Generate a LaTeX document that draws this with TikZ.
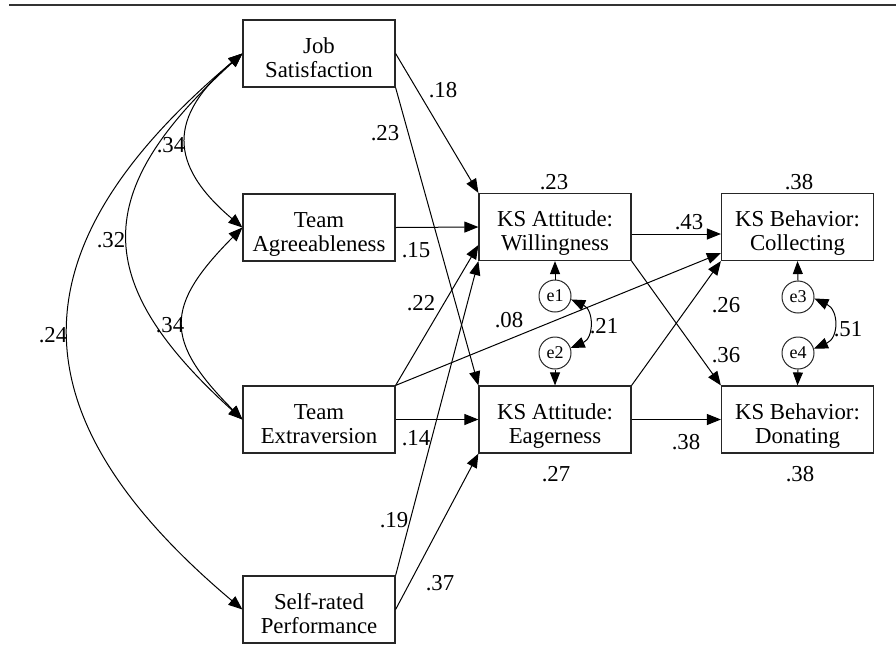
\documentclass[tikz,border=0pt]{standalone}
\usepackage{fontspec}
\setmainfont{Liberation Serif}
\usetikzlibrary{arrows.meta,calc}
\newcommand{\bxt}[2]{\rule{0pt}{28pt}#1\\#2\rule[-5pt]{0pt}{5pt}}
\begin{document}
\begin{tikzpicture}[x=1pt,y=-1pt,
  box/.style={draw=black!85, line width=1.2pt, minimum width=152pt, minimum height=67pt,
    inner sep=2pt, align=center, font=\fontsize{22.8}{24}\selectfont},
  err/.style={draw=black!85, line width=1pt, circle, minimum size=32pt, inner sep=0pt,
    font=\fontsize{18}{20}\selectfont},
  lbl/.style={inner sep=0pt, font=\fontsize{22.8}{24}\selectfont},
  path/.style={line width=1pt, -{Triangle[length=14pt,width=11pt]}},
  cov/.style={line width=1pt, {Triangle[length=14pt,width=11pt]}-{Triangle[length=14pt,width=11pt]}},
  smallarr/.style={line width=1pt, -{Triangle[length=13pt,width=10pt]}}
]
\useasboundingbox (0,0) rectangle (896,646);
\draw[line width=2.5pt, black!80] (9,5) -- (896,5);

% boxes
\node[box] (js) at (319,53.5) {\bxt{Job}{Satisfaction}};
\node[box] (ta) at (319,227.5) {\bxt{Team}{Agreeableness}};
\node[box] (te) at (319,419.5) {\bxt{Team}{Extraversion}};
\node[box] (sr) at (319,609.5) {\bxt{Self-rated}{Performance}};
\node[box] (w) at (555,227) {\bxt{KS Attitude:}{Willingness}};
\node[box] (e) at (555,419.5) {\bxt{KS Attitude:}{Eagerness}};
\node[box] (c) at (797.5,227) {\bxt{KS Behavior:}{Collecting}};
\node[box] (d) at (797.5,419.5) {\bxt{KS Behavior:}{Donating}};

% error terms
\node[err] (e1) at (555,296) {e1};
\node[err] (e2) at (555,353) {e2};
\node[err] (e3) at (798,297) {e3};
\node[err] (e4) at (798,353) {e4};

% covariances on the left
\draw[cov] (js.west) .. controls (168,116.5) and (168,164.5) .. (ta.west);
\draw[cov] (js.west) .. controls (90,191.5) and (90,281.5) .. (te.west);
\draw[cov] (js.west) .. controls (11,248.5) and (11,414.5) .. (sr.west);
\draw[cov] (ta.west) .. controls (164,306.5) and (164,340.5) .. (te.west);

% paths
\draw[path] (js.east) -- (w.north west);
\draw[path] (js.south east) -- (e.north west);
\draw[path] (ta.east) -- (w.west);
\draw[path] (te.north east) -- ($(w.west)+(0,18)$);
\draw[path] (sr.north east) -- (w.south west);
\draw[path] (te.north east) -- ($(c.south west)+(0,-8)$);
\draw[path] (te.east) -- (e.west);
\draw[path] (sr.east) -- (e.south west);
\draw[path] ($(w.east)+(0,7)$) -- ($(c.west)+(0,7)$);
\draw[path] (w.south east) -- (d.north west);
\draw[path] (e.north east) -- (c.south west);
\draw[path] (e.east) -- (d.west);

% error arrows
\draw[smallarr] (e1.north) -- (w.south);
\draw[smallarr] (e2.south) -- (e.north);
\draw[smallarr] (e3.north) -- (c.south);
\draw[smallarr] (e4.south) -- (d.north);
\draw[cov] (e1.-12) .. controls (594,310) and (594,338) .. (e2.18);
\draw[cov] (e3.-5) .. controls (839,310) and (839,338) .. (e4.15);

% labels
\node[lbl] (l1) at (443,90) {.18};
\node[lbl] (l2) at (385,133) {.23};
\node[lbl] (l3) at (171,145) {.34};
\node[lbl] (l4) at (111,240) {.32};
\node[lbl] (l5) at (416,250) {.15};
\node[lbl] (l6) at (421,303) {.22};
\node[lbl] (l7) at (53,335) {.24};
\node[lbl] (l8) at (170,325) {.34};
\node[lbl] (l9) at (416,438) {.14};
\node[lbl] (l10) at (394,520) {.19};
\node[lbl] (l11) at (440,583) {.37};
\node[lbl] (l12) at (554,182) {.23};
\node[lbl] (l13) at (799,182) {.38};
\node[lbl] (l14) at (689,222) {.43};
\node[lbl] (l15) at (509,320) {.08};
\node[lbl] (l16) at (726,305) {.26};
\node[lbl] (l17) at (726,355) {.36};
\node[lbl] (l18) at (686,442) {.38};
\node[lbl] (l19) at (556,474) {.27};
\node[lbl] (l20) at (800,474) {.38};
\node[lbl] (l21) at (604,326) {.21};
\node[lbl] (l22) at (848,329) {.51};
\end{tikzpicture}
\end{document}
